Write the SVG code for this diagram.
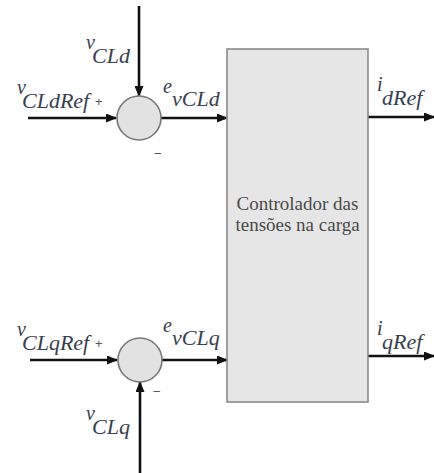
<svg xmlns="http://www.w3.org/2000/svg" width="434" height="473" viewBox="0 0 434 473">
  <defs>
    <marker id="arrow" markerUnits="userSpaceOnUse" markerWidth="11" markerHeight="9" refX="10" refY="4.5" orient="auto">
      <path d="M0,0 L11,4.5 L0,9 z" fill="#111"/>
    </marker>
    <style>
      .wire { stroke: #111; stroke-width: 2.6; fill: none; marker-end: url(#arrow); }
      .sum { fill: #e2e2e2; stroke: #777; stroke-width: 1.6; }
      .block { fill: #e6e6e6; stroke: #8a8a8a; stroke-width: 1.6; }
      .serif { font-family: "Liberation Serif", Tinos, "Times New Roman", Times, "Noto Serif", "DejaVu Serif", FreeSerif, serif; }
      .lbl { font-style: italic; font-size: 22px; fill: #38404e; }
      .sup { font-style: italic; font-size: 20px; fill: #38404e; }
      .sign { font-family: "Liberation Sans", Arial, sans-serif; font-size: 13px; fill: #555; }
      .inner { font-size: 19px; fill: #4a4a4a; text-anchor: middle; }
    </style>
  </defs>
  <rect width="434" height="473" fill="#ffffff"/>

  <g id="connectors">
    <line class="wire" x1="28" y1="118" x2="116" y2="118"/>
    <line class="wire" x1="139" y1="6" x2="139" y2="96"/>
    <line class="wire" x1="161" y1="118" x2="227" y2="118"/>
    <line class="wire" x1="368" y1="117" x2="434" y2="117"/>
    <line class="wire" x1="30" y1="360" x2="117" y2="360"/>
    <line class="wire" x1="140" y1="473" x2="140" y2="382"/>
    <line class="wire" x1="162" y1="360" x2="227" y2="360"/>
    <line class="wire" x1="368" y1="356" x2="434" y2="356"/>
  </g>

  <g id="sum-d">
    <circle class="sum" cx="139" cy="118" r="22"/>
    <text class="sign" x="154" y="158">−</text>
  </g>

  <g id="sum-q">
    <circle class="sum" cx="140" cy="360" r="22"/>
    <text class="sign" x="153" y="396">−</text>
  </g>

  <g id="controller">
    <rect class="block" x="227" y="49" width="141" height="353"/>
    <text class="serif inner" x="297.5" y="210">Controlador das</text>
    <text class="serif inner" x="297.5" y="231">tensões na carga</text>
  </g>

  <g id="labels">
    <text class="serif sup" x="86" y="49">v</text>
    <text class="serif lbl" x="92" y="63">CLd</text>

    <text class="serif sup" x="17" y="94">v</text>
    <text class="serif lbl" x="22" y="108">CLdRef</text>
    <text class="sign" x="95" y="106">+</text>

    <text class="serif sup" x="163" y="93">e</text>
    <text class="serif lbl" x="172" y="106">vCLd</text>

    <text class="serif sup" x="377" y="91">i</text>
    <text class="serif lbl" x="382" y="105">dRef</text>

    <text class="serif sup" x="17" y="336">v</text>
    <text class="serif lbl" x="22" y="350">CLqRef</text>
    <text class="sign" x="95" y="348">+</text>

    <text class="serif sup" x="163" y="332">e</text>
    <text class="serif lbl" x="172" y="345">vCLq</text>

    <text class="serif sup" x="377" y="335">i</text>
    <text class="serif lbl" x="382" y="349">qRef</text>

    <text class="serif sup" x="86" y="420">v</text>
    <text class="serif lbl" x="92" y="434">CLq</text>
  </g>
</svg>
